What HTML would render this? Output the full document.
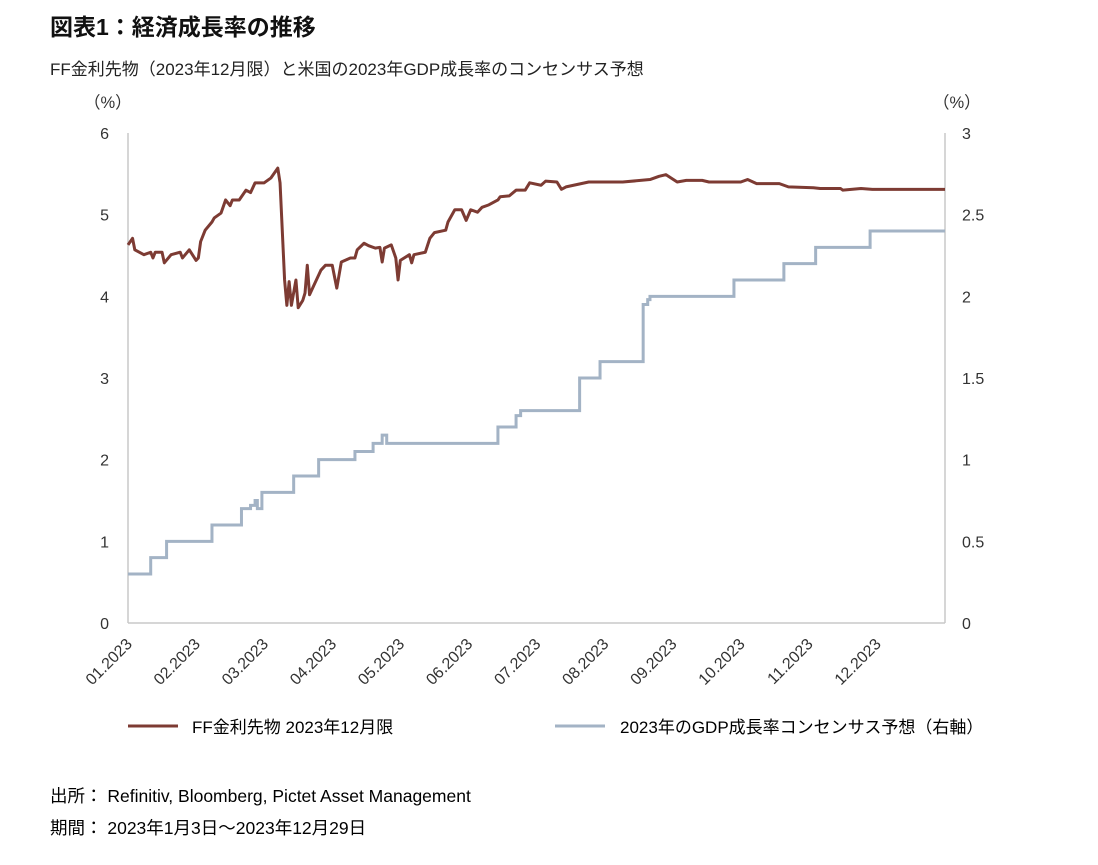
<!DOCTYPE html>
<html><head><meta charset="utf-8">
<style>
body{margin:0;background:#fff;width:1098px;height:860px;overflow:hidden;font-family:"Liberation Sans","Noto Sans CJK JP",sans-serif;color:#222}
svg text{font-family:"Liberation Sans","Noto Sans CJK JP",sans-serif}
</style></head>
<body>
<svg width="1098" height="860">
<text x="50" y="35" font-size="23" font-weight="bold" fill="#111">図表1：経済成長率の推移</text>
<text x="50" y="75" font-size="17" fill="#222">FF金利先物（2023年12月限）と米国の2023年GDP成長率のコンセンサス予想</text>
<text x="84" y="108" font-size="16.5" fill="#333">（%）</text>
<text x="933" y="108" font-size="16.5" fill="#333">（%）</text>
<g id="axes"></g>
<g id="series"></g>
<line x1="128" y1="726" x2="178" y2="726" stroke="#7d3b33" stroke-width="3"/>
<text x="192" y="733" font-size="17">FF金利先物 2023年12月限</text>
<line x1="555" y1="726" x2="605" y2="726" stroke="#a3b3c5" stroke-width="3"/>
<text x="620" y="733" font-size="17">2023年のGDP成長率コンセンサス予想（右軸）</text>
<text x="50" y="802" font-size="17.5">出所： Refinitiv, Bloomberg, Pictet Asset Management</text>
<text x="50" y="834" font-size="17.5">期間： 2023年1月3日～2023年12月29日</text>
</svg>
<script>
const monthLabels=["01.2023","02.2023","03.2023","04.2023","05.2023","06.2023","07.2023","08.2023","09.2023","10.2023","11.2023","12.2023"];
const leftTicks=[0,1,2,3,4,5,6];
const rightTicks=["0","0.5","1","1.5","2","2.5","3"];
const ffDays=[0,2,3,7,10,11,12,15,16,19,23,24,27,30,31,32,34,37,38,41,43,45,46,49,52,54,56,60,63,66,67,69,70,71,72,74,75,77,78,79,80,82,85,87,90,92,94,98,100,101,104,106,109,111,112,113,116,118,119,120,124,125,126,131,133,135,140,141,144,147,149,151,154,156,159,163,164,168,171,175,177,182,184,189,191,193,203,218,230,234,237,242,246,253,256,270,273,277,287,291,302,305,314,315,323,328,360];
const ffValues=[4.63,4.71,4.57,4.51,4.54,4.47,4.54,4.54,4.41,4.51,4.54,4.47,4.57,4.44,4.47,4.67,4.81,4.91,4.96,5.02,5.18,5.11,5.18,5.18,5.30,5.27,5.39,5.39,5.45,5.57,5.39,4.20,3.89,4.18,3.89,4.20,3.86,3.95,4.04,4.38,4.02,4.14,4.32,4.38,4.38,4.10,4.42,4.47,4.47,4.57,4.65,4.62,4.59,4.60,4.42,4.59,4.63,4.47,4.20,4.44,4.51,4.41,4.51,4.54,4.71,4.78,4.81,4.91,5.06,5.06,4.93,5.06,5.03,5.09,5.12,5.18,5.22,5.23,5.30,5.30,5.39,5.36,5.41,5.40,5.31,5.34,5.40,5.40,5.43,5.47,5.49,5.40,5.42,5.42,5.40,5.40,5.43,5.38,5.38,5.34,5.33,5.32,5.32,5.30,5.32,5.31,5.31];
const gdpDays=[0,10,17,37,50,54,56,57,59,73,84,100,108,112,114,163,171,173,199,208,227,229,230,267,289,303,327];
const gdpValues=[0.3,0.4,0.5,0.6,0.7,0.72,0.75,0.7,0.8,0.9,1.0,1.05,1.1,1.15,1.1,1.2,1.27,1.3,1.5,1.6,1.95,1.98,2.0,2.1,2.2,2.3,2.4];
const X0=128,X1=945,Y0=623,Y1=133,DAYS=360;
const xs=d=>X0+d/DAYS*(X1-X0);
const yl=v=>Y0-v/6*(Y0-Y1);
const yr=v=>Y0-v/3*(Y0-Y1);
const NS="http://www.w3.org/2000/svg";
const axes=document.getElementById('axes'),series=document.getElementById('series');
function mk(tag,attrs,parent){const e=document.createElementNS(NS,tag);for(const k in attrs)e.setAttribute(k,attrs[k]);parent.appendChild(e);return e;}
let e=mk('line',{x1:X0,y1:Y1,x2:X0,y2:Y0,stroke:'#c8c8c8','stroke-width':1.5},axes);


e=mk('line',{x1:X1,y1:Y1,x2:X1,y2:Y0,stroke:'#c8c8c8','stroke-width':1.5},axes);


e=mk('line',{x1:X0,y1:Y0,x2:X1,y2:Y0,stroke:'#c8c8c8','stroke-width':1.5},axes);


leftTicks.forEach(v=>{const t=mk('text',{x:109,y:yl(v)+6,'font-size':16,'text-anchor':'end',fill:'#333'},axes);t.textContent=v;

});
rightTicks.forEach((s,i)=>{const t=mk('text',{x:962,y:yr(i*0.5)+6,'font-size':16,fill:'#333'},axes);t.textContent=s;

});
monthLabels.forEach((s,i)=>{const x=X0+i*(X1-X0)/12+5;const t=mk('text',{x:x,y:Y0+22,'font-size':16,'text-anchor':'end',fill:'#333',transform:`rotate(-45 ${x} ${Y0+22})`},axes);t.textContent=s;

});
let pts=[];gdpDays.forEach((d,i)=>{if(i>0)pts.push(xs(d)+','+yr(gdpValues[i-1]));pts.push(xs(d)+','+yr(gdpValues[i]));});pts.push(xs(DAYS)+','+yr(gdpValues[gdpValues.length-1]));
e=mk('polyline',{points:pts.join(' '),fill:'none',stroke:'#a3b3c5','stroke-width':3},series);


pts=ffDays.map((d,i)=>xs(d)+','+yl(ffValues[i]));
e=mk('polyline',{points:pts.join(' '),fill:'none',stroke:'#7d3b33','stroke-width':3,'stroke-linejoin':'round'},series);


</script>
</body></html>
